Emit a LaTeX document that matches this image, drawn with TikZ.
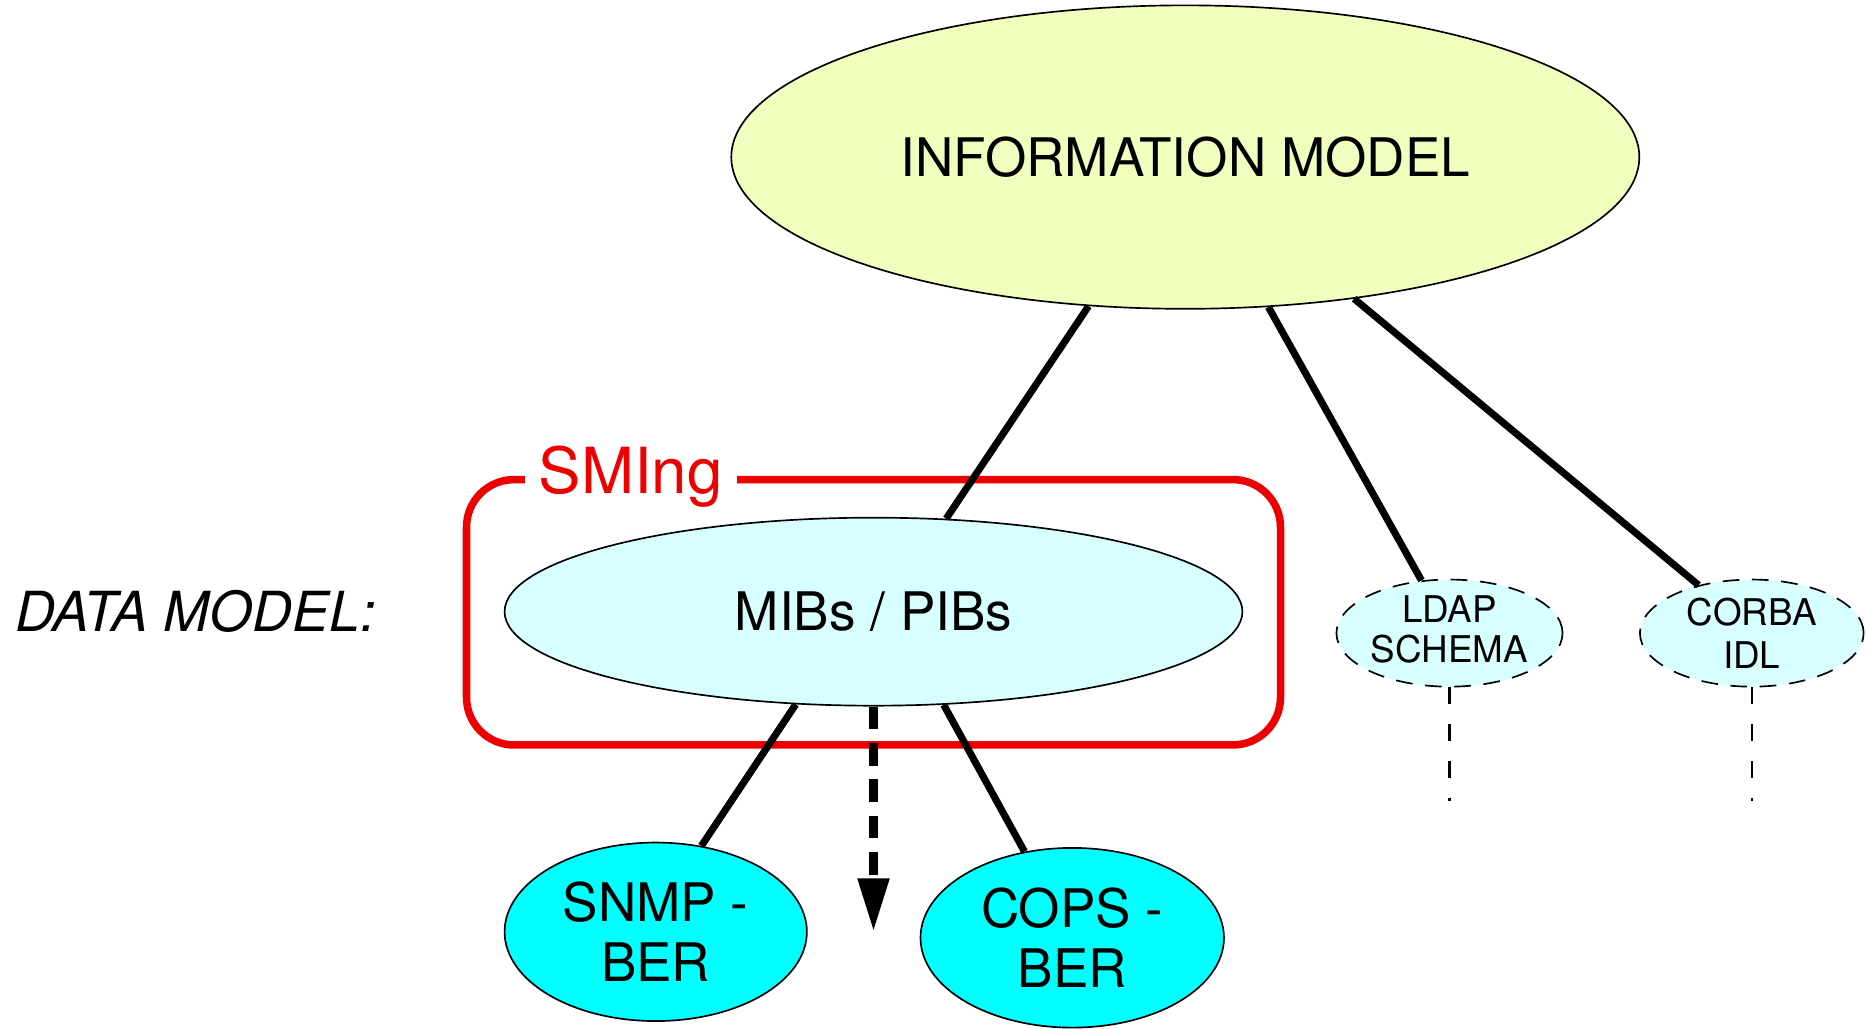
\documentclass[tikz,border=0pt]{standalone}
\usepackage{fontspec}
\setmainfont{TeX Gyre Heros}
\usetikzlibrary{shapes.geometric,arrows.meta}
\definecolor{infoyellow}{RGB}{240,255,190}
\definecolor{datacyan}{RGB}{216,255,255}
\definecolor{bercyan}{RGB}{0,255,255}
\definecolor{smingred}{RGB}{238,0,0}

\begin{document}
\begin{tikzpicture}[
    oval/.style={ellipse, draw, line width=0.4pt, inner sep=0pt, align=center},
    bigfont/.style={font=\fontsize{12.7}{14.5}\selectfont},
    smallfont/.style={font=\fontsize{8.8}{10.2}\selectfont},
    link/.style={line width=1.7pt},
    stub/.style={line width=0.5pt, dash pattern=on 4pt off 4.8pt},
    ovaldash/.style={dash pattern=on 4pt off 3pt}
    ]
    \useasboundingbox (0,0) rectangle (15.68,-8.64);

    % Modello informativo
    \node[oval, bigfont, fill=infoyellow, minimum width=7.63cm, minimum height=2.55cm] (info) at (9.96,-1.32) {INFORMATION MODEL};

    % Riquadro SMIng
    \draw[smingred, line width=1.8pt, rounded corners=0.4cm] (3.92,-4.03) rectangle (10.76,-6.26);
    \node[smingred, fill=white, anchor=base, inner xsep=0.12cm, font=\fontsize{15.2}{18}\selectfont] (sming) at (5.30,-4.15) {SMIng};

    % Modelli dati
    \node[anchor=west, inner sep=0pt, font=\fontsize{13.2}{15}\selectfont\itshape] (datamodel) at (0.125,-5.14) {DATA MODEL:};
    \node[oval, bigfont, fill=datacyan, minimum width=6.2cm, minimum height=1.58cm] (mib) at (7.34,-5.14) {\raisebox{-0.6mm}{MIBs / PIBs}};
    \node[oval, smallfont, ovaldash, fill=datacyan, minimum width=1.9cm, minimum height=0.9cm] (ldap) at (12.18,-5.32) {\raisebox{0.6mm}{\shortstack{LDAP\\SCHEMA}}};
    \node[oval, smallfont, ovaldash, fill=datacyan, minimum width=1.88cm, minimum height=0.9cm] (corba) at (14.72,-5.32) {CORBA\\IDL};

    % Codifiche
    \node[oval, bigfont, fill=bercyan, minimum width=2.54cm, minimum height=1.5cm] (snmp) at (5.51,-7.83) {SNMP -\\BER};
    \node[oval, bigfont, fill=bercyan, minimum width=2.55cm, minimum height=1.51cm] (cops) at (9.01,-7.88) {COPS -\\BER};

    \coordinate (mibend) at (7.34,-7.83);
    \coordinate (ldapend) at (12.18,-6.73);
    \coordinate (corbaend) at (14.72,-6.73);

    % Collegamenti
    \draw[link] (info.237) -- (mib.52);
    \draw[link] (info.299) -- (ldap.118);
    \draw[link] (info.320) -- (corba.138);
    \draw[link] (mib.230) -- (snmp.62);
    \draw[link] (mib.307) -- (cops.119);
    \draw[line width=2.2pt, dash pattern=on 5.4pt off 3.3pt, -{Triangle[length=0.45cm, width=0.25cm]}] (mib.south) -- (mibend);
    \draw[stub] (ldap.south) -- (ldapend);
    \draw[stub] (corba.south) -- (corbaend);
\end{tikzpicture}
\end{document}
